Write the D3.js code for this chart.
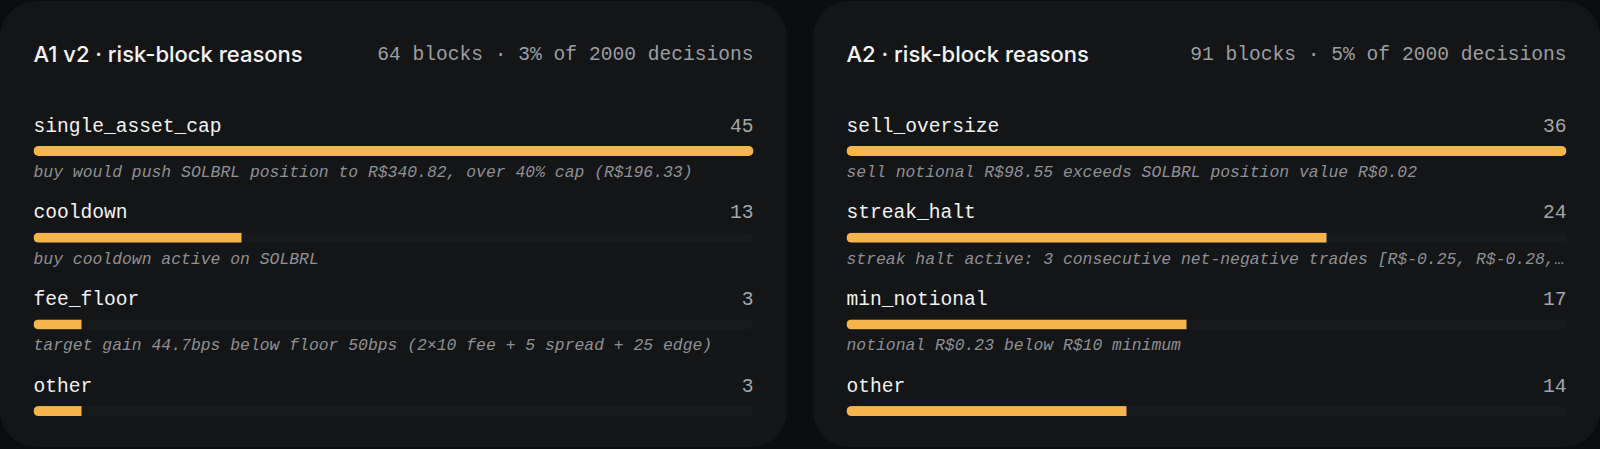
<!DOCTYPE html>
<html>
<head>
<meta charset="utf-8">
<script src="https://cdn.jsdelivr.net/npm/d3@7/dist/d3.min.js"></script>
<style>
  html, body { margin: 0; padding: 0; background: #0c0d0f; }
  svg { display: block; }
</style>
</head>
<body>
<svg id="chart" width="1600" height="449"></svg>
<script>
// ---- Data ----
const panelTitles = ["A1 v2 · risk-block reasons", "A2 · risk-block reasons"];
const panelSubtitles = ["64 blocks · 3% of 2000 decisions", "91 blocks · 5% of 2000 decisions"];

const a1Reasons = ["single_asset_cap", "cooldown", "fee_floor", "other"];
const a1Counts = [45, 13, 3, 3];
const a1Details = [
  "buy would push SOLBRL position to R$340.82, over 40% cap (R$196.33)",
  "buy cooldown active on SOLBRL",
  "target gain 44.7bps below floor 50bps (2×10 fee + 5 spread + 25 edge)",
  ""
];

const a2Reasons = ["sell_oversize", "streak_halt", "min_notional", "other"];
const a2Counts = [36, 24, 17, 14];
const a2Details = [
  "sell notional R$98.55 exceeds SOLBRL position value R$0.02",
  "streak halt active: 3 consecutive net-negative trades [R$-0.25, R$-0.28,…",
  "notional R$0.23 below R$10 minimum",
  ""
];

const panels = [
  { title: panelTitles[0], subtitle: panelSubtitles[0], reasons: a1Reasons, counts: a1Counts, details: a1Details },
  { title: panelTitles[1], subtitle: panelSubtitles[1], reasons: a2Reasons, counts: a2Counts, details: a2Details }
];

// ---- Layout ----
const svg = d3.select("#chart");
const cardH = 446, cardY = 1, pad = 33.5;
const innerW = 720;
const MONO = "'Liberation Mono', 'DejaVu Sans Mono', monospace";
const SANS = "Inter, 'Noto Sans', sans-serif";

const xPanel = d3.scaleBand().domain(d3.range(panels.length)).range([0, 1600]).paddingInner(26 / 813);
const cardW = xPanel.bandwidth();

panels.forEach((p, pi) => {
  const cx = xPanel(pi);
  const g = svg.append("g").attr("transform", `translate(${cx},${cardY})`);

  g.append("rect")
    .attr("width", cardW).attr("height", cardH)
    .attr("rx", 36).attr("ry", 36)
    .attr("fill", "#141517");

  const left = pad, right = pad + innerW;

  g.append("text")
    .attr("x", left).attr("y", 61)
    .attr("fill", "#f4f4f5")
    .attr("font-family", SANS).attr("font-weight", 500)
    .attr("font-size", 22)
    .text(p.title);

  g.append("text")
    .attr("x", right).attr("y", 58.5)
    .attr("text-anchor", "end")
    .attr("fill", "#9c9ea2")
    .attr("font-family", MONO)
    .attr("font-size", 19.6)
    .text(p.subtitle);

  const x = d3.scaleLinear().domain([0, d3.max(p.counts)]).range([0, innerW]);
  const y = d3.scaleBand().domain(p.reasons).range([100, 100 + 86.7 * p.reasons.length]);

  const rows = g.selectAll("g.row").data(p.reasons.map((r, i) => ({ r, c: p.counts[i], d: p.details[i], i })))
    .enter().append("g").attr("class", "row")
    .attr("transform", d => `translate(0,${y(d.r)})`);

  rows.append("text")
    .attr("x", left).attr("y", 30.7)
    .attr("fill", "#f2f2f2")
    .attr("font-family", MONO).attr("font-size", 19.6)
    .text(d => d.r);

  rows.append("text")
    .attr("x", right).attr("y", 30.7)
    .attr("text-anchor", "end")
    .attr("fill", "#a4a6aa")
    .attr("font-family", MONO).attr("font-size", 19.6)
    .text(d => d.c);

  const barY = 45, barH = 10;
  rows.append("clipPath")
    .attr("id", d => `clip-${pi}-${d.i}`)
    .append("rect")
    .attr("x", left).attr("y", barY).attr("width", innerW).attr("height", barH)
    .attr("rx", barH / 2);

  rows.append("rect")
    .attr("x", left).attr("y", barY).attr("width", innerW).attr("height", barH)
    .attr("rx", barH / 2)
    .attr("fill", "#18191c");

  rows.append("rect")
    .attr("clip-path", d => `url(#clip-${pi}-${d.i})`)
    .attr("x", left).attr("y", barY)
    .attr("width", d => x(d.c)).attr("height", barH)
    .attr("fill", "#f5b54d");

  rows.append("text")
    .attr("x", left).attr("y", 76)
    .attr("fill", "#8e9094")
    .attr("font-family", MONO).attr("font-style", "italic")
    .attr("font-size", 16.4)
    .text(d => d.d);
});
</script>
</body>
</html>
